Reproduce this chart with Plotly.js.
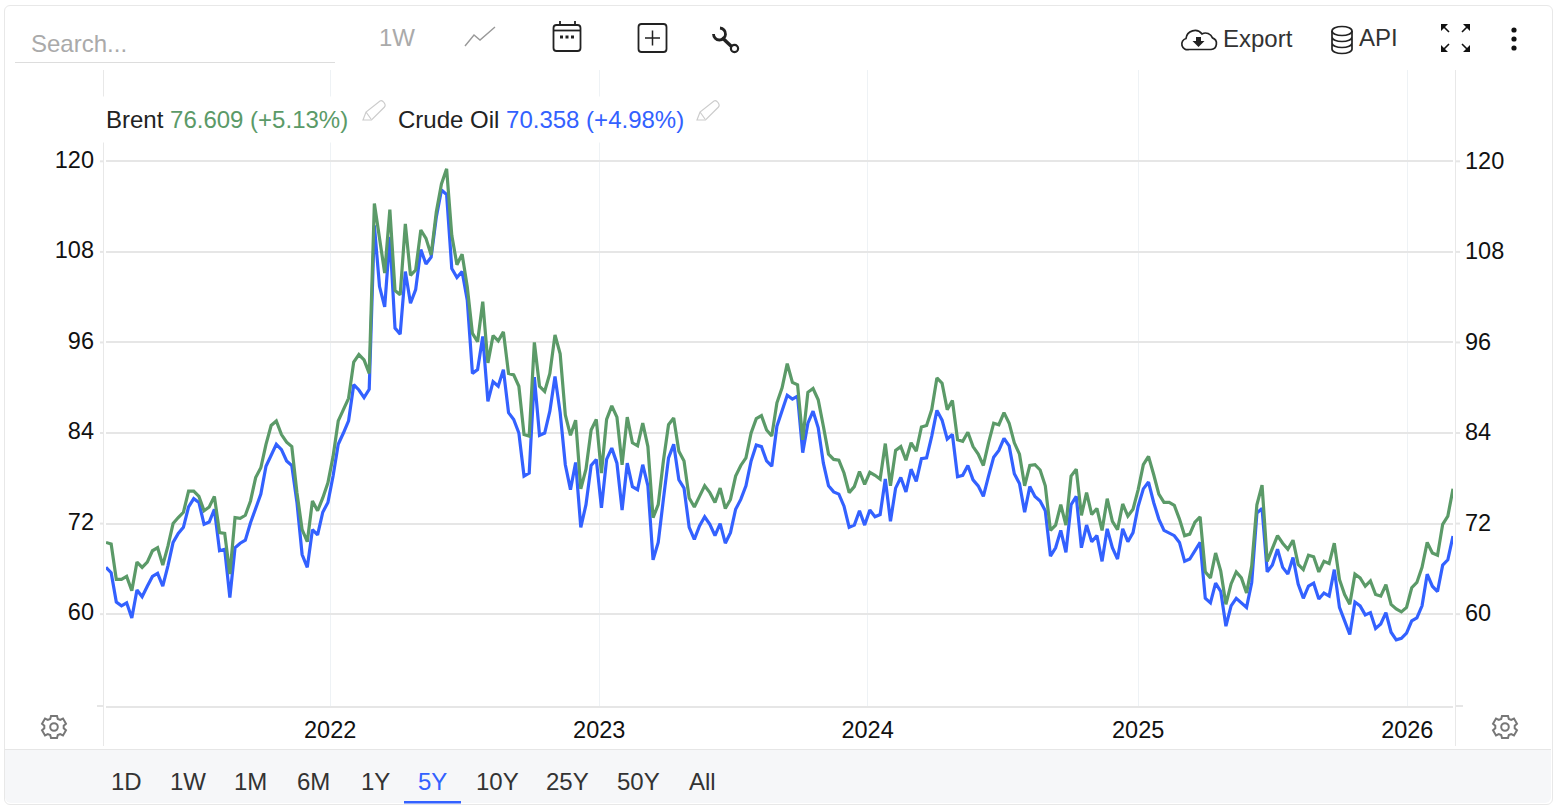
<!DOCTYPE html>
<html><head><meta charset="utf-8">
<script src="https://cdn.plot.ly/plotly-3.0.1.min.js"></script>
<style>
html,body{margin:0;padding:0;background:#fff;width:1556px;height:806px;overflow:hidden;font-family:"Liberation Sans",Arial,sans-serif}
#card{position:absolute;left:4px;top:5px;width:1547px;height:798px;border:1px solid #e8e8e8;border-radius:6px;box-sizing:content-box}
#foot{position:absolute;left:5px;top:749px;width:1546px;height:54px;background:#f6f7f9;border-top:1px solid #e6e6e6;border-radius:0 0 6px 6px;box-sizing:border-box}
#chart{position:absolute;left:0;top:0;width:1556px;height:806px}
.t{position:absolute;font-size:24px;line-height:28px;color:#333;white-space:nowrap}
svg.o{position:absolute;left:0;top:0;pointer-events:none}
</style></head><body>
<div id="card"></div><div id="foot"></div><div id="chart"></div>
<div id="ui"></div>
<svg class="o" width="1556" height="806" fill="none" stroke="#222" stroke-width="1.8">
  <line x1="15" y1="62.5" x2="335" y2="62.5" stroke="#ddd" stroke-width="1"/>
  <polyline points="465,46 474,35 480,40 495,27" stroke="#999" stroke-width="1.4"/>
  <rect x="553.5" y="25" width="27" height="26" rx="3"/><line x1="553.5" y1="30.5" x2="580.5" y2="30.5"/>
  <line x1="560" y1="21" x2="560" y2="25"/><line x1="575" y1="21" x2="575" y2="25"/>
  <g fill="#222" stroke="none"><rect x="560" y="35.5" width="3" height="3"/><rect x="565.5" y="35.5" width="3" height="3"/><rect x="571" y="35.5" width="3" height="3"/></g>
  <rect x="638.5" y="24" width="28" height="28" rx="3"/><path d="M652.5 30.5v15M645 38h15" stroke-width="1.5"/>
  <path d="M722 37.500L732 47" stroke-width="3.5"/><circle cx="734.500" cy="48.500" r="3.600" stroke-width="2.200" fill="#fff"/>
  <path d="M720 28A6 6 0 1 1 713.500 34" stroke-width="2.800"/>
  <path d="M1189 49.500h22a6 6 0 0 0 1.500-11.600 7.500 7.500 0 0 0-10.500-4 9 9 0 0 0-16 4.600 5.600 5.600 0 0 0 3 11z" stroke-width="1.700"/>
  <path d="M1196 37v4h-3.500l6 6 6-6H1201v-4z" fill="#222" stroke="none"/>
  <g stroke-width="1.700"><ellipse cx="1342" cy="31" rx="10" ry="4.500"/><path d="M1332 31v18c0 2.500 4.500 4.500 10 4.500s10-2 10-4.500V31M1332 37c0 2.500 4.500 4.500 10 4.500s10-2 10-4.500M1332 43c0 2.500 4.500 4.500 10 4.500s10-2 10-4.500"/></g>
  <g fill="#111" stroke="none"><path d="M1441 24h7l-7 7zM1470 24v7l-7-7zM1441 52v-7l7 7zM1470 52h-7l7-7z"/></g>
  <path d="M1444 27l5 5M1467 27l-5 5M1444 49l5-5M1467 49l-5-5" stroke="#111" stroke-width="1.600"/>
  <g fill="#111" stroke="none"><circle cx="1514" cy="30" r="2.600"/><circle cx="1514" cy="39" r="2.600"/><circle cx="1514" cy="48" r="2.600"/></g>
  <g stroke="#ccc" stroke-width="1.200"><path d="M363 120l3-8 14-11q2-1 4 1.500t.5 4.500l-13 13zM366 112l5 7"/><path d="M697 120l3-8 14-11q2-1 4 1.500t.5 4.500l-13 13zM700 112l5 7"/></g>
  <g stroke="#777" stroke-width="2"><circle cx="54" cy="727" r="3.800"/><path d="M51 716h6l.8 3 2.400 1 2.800-1.500 3 5.200-2.300 2.100v2.400l2.300 2.100-3 5.200-2.800-1.500-2.400 1-.8 3h-6l-.8-3-2.400-1-2.800 1.500-3-5.200 2.300-2.100v-2.400l-2.300-2.100 3-5.200 2.800 1.500 2.400-1z"/>
  <g transform="translate(1451 0)"><circle cx="54" cy="727" r="3.800"/><path d="M51 716h6l.8 3 2.400 1 2.800-1.500 3 5.200-2.300 2.100v2.400l2.300 2.100-3 5.200-2.800-1.500-2.400 1-.8 3h-6l-.8-3-2.400-1-2.800 1.500-3-5.200 2.300-2.100v-2.400l-2.300-2.100 3-5.200 2.800 1.500 2.400-1z"/></g></g>
  <rect x="404" y="801" width="57" height="2.500" fill="#3361ff" stroke="none"/>
</svg>
<script>
// weekly closes
const firstWeek = '2021-03-05';
const brent = [69.5,69.3,64.6,64.6,65.0,63.1,66.9,66.2,66.9,68.4,
68.8,66.5,69.0,72.0,72.8,73.5,76.3,76.3,75.6,73.7,
74.2,75.6,70.8,70.7,65.3,72.8,72.7,73.1,75.0,78.1,
79.4,82.5,85.0,85.6,83.8,82.8,82.2,76.1,71.2,69.6,
75.0,73.7,75.4,77.4,80.9,85.6,87.1,88.6,93.4,94.4,
93.7,91.9,114.4,109.8,105.2,113.6,102.9,102.3,111.7,104.9,
105.6,110.9,109.8,107.6,113.3,117.0,119.0,110.2,106.3,107.7,
103.4,97.2,96.1,101.4,93.3,96.9,96.2,97.4,91.9,91.7,
90.2,83.8,83.6,96,90.2,89.5,91.9,97,94.5,86.4,
83.7,85.7,76.6,79.2,84.4,85.8,78.7,85.8,87.6,86.1,
79.8,86.1,82.7,82.3,85.3,82.2,72.8,74.5,80.3,85.1,
86,81.6,80.3,75.4,74.2,75.6,77,76.1,74.8,76.7,
74,75.2,78.3,79.7,80.7,84,85.9,86.3,84.4,83.6,
88,90,93.2,90.7,90.4,83.1,89.4,89.9,88.4,84.9,
81.2,80.5,80.4,78.7,76.1,76.9,78.9,77.2,78.8,78.4,
77.9,82.6,77,81.7,82.2,80.4,82.7,81.6,84.8,85,
87.1,91.3,90.6,87.1,88.3,83.1,82.9,84.1,82.2,81.2,
79.7,82.7,85.3,85.1,86.7,85.3,82.7,81.2,77,79.7,
79.8,79.1,77,71.1,71.8,74.5,71.8,78.3,79.2,73.1,
76.1,73.2,74,71.1,75.3,72.3,71.2,74.6,73,73.9,
76.5,79.8,80.9,78.5,75.9,74.8,74.8,74.4,72.6,70.4,
70.6,72.2,72.9,65.6,64.8,68.1,65.7,61.3,64,65.6,
64.8,62.8,66.4,74.5,77.1,67,68.7,70.4,69.4,68.6,
69.8,66.6,65.9,67.8,67.6,65.6,67,66.7,69.4,64.6,
62.6,61.3,65.3,64.8,63.7,64.4,62.6,62.4,63.9,61.3,
60.7,60.3,60.9,63.5,64.2,66.2,69.5,68.1,67.8,71.9,
73,76.609];
const crude = [66.2,65.5,61.6,61.1,61.5,59.5,63.2,62.3,63.7,65,
65.4,63.7,66.4,69.5,70.7,71.5,74.2,75.3,74.8,71.9,
72.2,73.9,68.4,68.6,62.2,68.8,69.4,69.8,72.1,74.1,
75.9,79.6,81.1,82.5,81.8,80.3,79.7,74.8,67.9,66.2,
71.2,70.5,73.5,74.8,78.3,82.5,84,85.6,90.4,89.7,
88.7,89.8,111.5,103.4,100.7,110,97.9,97.1,105.4,101.2,
103,108.3,106.4,107.3,112.6,116.2,115.6,105.8,104.6,105.4,
101.6,91.9,92.4,96.8,88.2,90.8,90.2,92.4,86.7,85.8,
84,78.3,78.7,91.4,83.7,84,86.9,91.5,86.7,79.8,
76.5,80.1,71.5,74.5,79.7,80.5,74.1,80.5,82,80,
73.8,80,76.9,76.5,79.8,77,67.2,69.5,75.2,80.7,
82.5,77.8,76.7,71.5,69.9,71.7,72.9,71.9,70.4,72,
69.4,70.8,73.9,75.2,77,80.3,82.4,82.2,80.3,79.6,
84.9,87.1,89,88.5,88.9,81.4,85.3,86.9,84.7,80,
77,76.2,75.9,74.3,71.5,71.8,73.7,71.8,73.8,72.9,
73.2,77.9,72.3,76.7,78.1,76.2,79.2,77.6,80.6,80.7,
83.6,87,85.7,83.2,83.8,78.2,78.4,79.7,77.8,77,
75.6,78.3,80.8,81.7,83.3,82.3,78.6,77.3,73.5,76.9,
75.6,75,73.7,67.7,68.8,71.1,68.2,74.5,75.6,68.8,
71.8,69.6,70.4,67,71.3,68.8,67.3,71.3,69.6,70.8,
74.3,76.6,77.5,74.8,72.6,71.1,70.8,70.4,69.5,67,
67.3,68.4,69.5,62.1,61.5,64.1,63,58.4,61.1,62.1,
61.5,60.9,64.2,73.4,74,65.6,66.5,68.6,66.2,65.3,
67.5,64,62.1,63.7,64.1,62,62.8,62.4,65.9,60.9,
59.1,57.3,61.6,61.1,59.9,60.2,58.1,58.7,60.2,57.6,
56.6,56.8,57.5,59.1,59.5,61.1,65.3,63.7,63,66.5,
67.2,70.358];
const yTicks = [60,72,84,96,108,120];
const yearTicks = ['2022-01-03','2023-01-03','2024-01-02','2025-01-03','2026-01-03'];
const yearLabels = ['2022','2023','2024','2025','2026'];
const rangeLabels = ['1D','1W','1M','6M','1Y','5Y','10Y','25Y','50Y','All'];
const rangeX = [111,170,234,297,361,418,476,546,617,689];

const GREEN='#5b9a68', BLUE='#3361ff', GRID='#e6e6e6';
const t0 = Date.parse(firstWeek+'T00:00:00Z');
const dates = brent.map((_,i)=>new Date(t0+i*7*864e5).toISOString().slice(0,10));

const L=106,R=1453,T=70,B=706,W=1556,H=806,PW=R-L,PH=B-T;
const px=x=>(x-L)/PW, py=y=>(B-y)/PH;
const line=(x0,y0,x1,y1,c,w,yref)=>({type:'line',xref:'paper',yref:yref||'paper',x0,y0,x1,y1,line:{color:c,width:w},layer:'below'});
const shapes=[
  line(px(103.5),py(70),px(103.5),py(746),'#e8e8e8',1),
  line(px(1455.5),py(70),px(1455.5),py(746),'#e8e8e8',1),
  line(px(97),0,px(103),0,GRID,2),
  line(px(1456),0,px(1463),0,GRID,2)
];
yTicks.forEach(v=>{shapes.push(line(px(100),v,px(103),v,GRID,2,'y'));shapes.push(line(px(1456),v,px(1460),v,GRID,2,'y'));});
const yr=[47.83,132.1];
const tf={family:'"Liberation Sans",Arial,sans-serif',size:23.5,color:'#111'};
const yBase={range:yr,tickmode:'array',tickvals:yTicks,ticktext:yTicks.map(String),tickfont:tf,zeroline:false,showline:false,ticks:'',fixedrange:true,ticklabelstandoff:11};
const layout={width:W,height:H,margin:{l:L,r:W-R,t:T,b:H-B,pad:0},showlegend:false,
  paper_bgcolor:'rgba(0,0,0,0)',plot_bgcolor:'rgba(0,0,0,0)',hovermode:false,
  xaxis:{type:'date',range:[dates[0],dates[dates.length-1]],tickmode:'array',tickvals:yearTicks,ticktext:yearLabels,tickfont:tf,
    showgrid:true,gridcolor:'#eef2f5',gridwidth:1,showline:true,linecolor:GRID,linewidth:2,ticks:'',zeroline:false,fixedrange:true,ticklabelstandoff:2},
  yaxis:Object.assign({},yBase,{side:'left',showgrid:true,gridcolor:GRID,gridwidth:2,ticklabelshift:-2}),
  yaxis2:Object.assign({},yBase,{side:'right',overlaying:'y',showgrid:false,ticklabelshift:-1}),
  shapes,
  annotations:[
    {xref:'paper',yref:'paper',x:0,xanchor:'left',xshift:-10,y:py(119),yanchor:'middle',showarrow:false,bgcolor:'#fff',borderpad:9,
     text:'Brent <span style="color:'+GREEN+'">76.609 (+5.13%)</span>',font:{family:tf.family,size:24,color:'#222'},align:'left'},
    {xref:'paper',yref:'paper',x:px(398),xanchor:'left',xshift:-10,y:py(119),yanchor:'middle',showarrow:false,bgcolor:'#fff',borderpad:9,
     text:'Crude Oil <span style="color:'+BLUE+'">70.358 (+4.98%)</span>',font:{family:tf.family,size:24,color:'#222'},align:'left'}
  ]
};
const traces=[
  {type:'scatter',mode:'lines',name:'Crude Oil',x:dates,y:crude,yaxis:'y',line:{color:BLUE,width:3.2,shape:'linear'},cliponaxis:false},
  {type:'scatter',mode:'lines',name:'Brent',x:dates,y:brent,yaxis:'y2',line:{color:GREEN,width:3.2,shape:'linear'},cliponaxis:false}
];
Plotly.newPlot('chart',traces,layout,{displayModeBar:false,staticPlot:true});

const ui=document.getElementById('ui');
const addT=(s,x,cy,c)=>{const d=document.createElement('div');d.className='t';d.textContent=s;d.style.left=x+'px';d.style.top=(cy-14)+'px';if(c)d.style.color=c;ui.appendChild(d);};
addT('Search...',31,44,'#aaa');
addT('1W',379,38,'#aaa');
addT('Export',1223,39,'#333');
addT('API',1359,38,'#333');
rangeLabels.forEach((s,i)=>addT(s,rangeX[i],782,s==='5Y'?BLUE:'#333'));
</script>
</body></html>
